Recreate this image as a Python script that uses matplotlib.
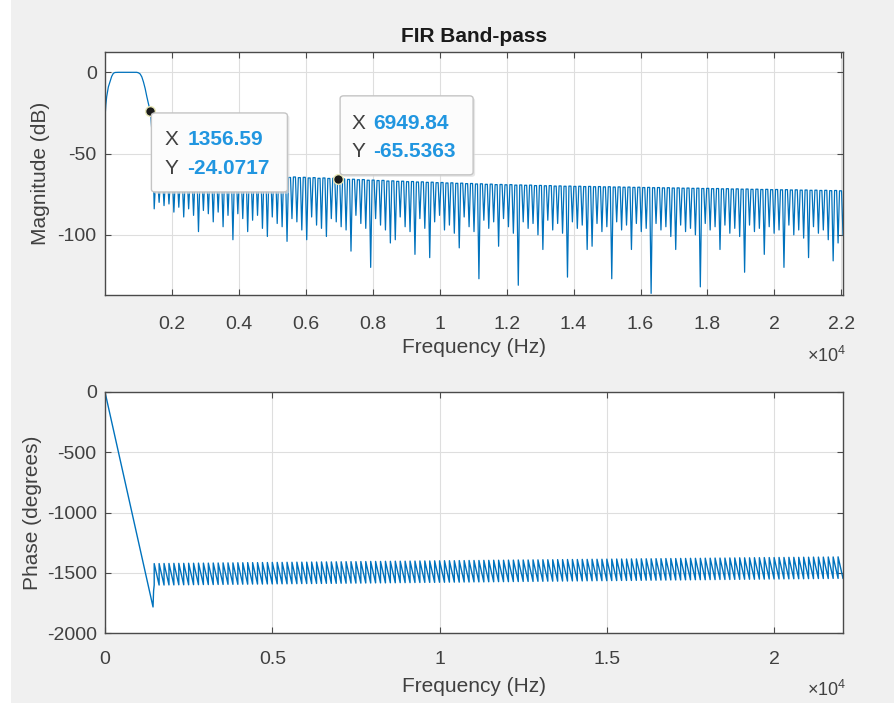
import matplotlib
matplotlib.use("Agg")
import matplotlib.pyplot as plt
from matplotlib.patches import Rectangle, FancyBboxPatch

plt.rcParams['font.family'] = ['Liberation Sans', 'DejaVu Sans']
plt.rcParams['mathtext.fontset'] = 'custom'
plt.rcParams['mathtext.rm'] = 'Liberation Sans'
plt.rcParams['axes.unicode_minus'] = False

# ---------------- data ----------------
title = "FIR Band-pass"
fs_half_hz = 22050

# pass-band / transition of the magnitude response
pass_hz = [0, 25, 50, 100, 150, 200, 250, 300, 400, 600, 800, 950,
           1000, 1050, 1100, 1150, 1200, 1250, 1300, 1356.59, 1400, 1440]
pass_db = [-28, -20, -15, -9, -5.8, -2.5, -0.6, -0.1, 0, 0, 0, 0,
           -0.3, -1, -2.8, -6, -10, -15, -19.5, -24.0717, -36, -55]

# stop-band lobes: null frequencies / depths and lobe peak frequencies / levels
null_hz = [1470, 1617, 1764, 1911, 2058, 2205, 2352, 2499, 2646, 2793,
           2940, 3087, 3234, 3381, 3528, 3675, 3822, 3969, 4116, 4263,
           4410, 4557, 4704, 4851, 4998, 5145, 5292, 5439, 5586, 5733,
           5880, 6027, 6174, 6321, 6468, 6615, 6762, 6909, 7056, 7203,
           7350, 7497, 7644, 7791, 7938, 8085, 8232, 8379, 8526, 8673,
           8820, 8967, 9114, 9261, 9408, 9555, 9702, 9849, 9996, 10143,
           10290, 10437, 10584, 10731, 10878, 11025, 11172, 11319, 11466, 11613,
           11760, 11907, 12054, 12201, 12348, 12495, 12642, 12789, 12936, 13083,
           13230, 13377, 13524, 13671, 13818, 13965, 14112, 14259, 14406, 14553,
           14700, 14847, 14994, 15141, 15288, 15435, 15582, 15729, 15876, 16023,
           16170, 16317, 16464, 16611, 16758, 16905, 17052, 17199, 17346, 17493,
           17640, 17787, 17934, 18081, 18228, 18375, 18522, 18669, 18816, 18963,
           19110, 19257, 19404, 19551, 19698, 19845, 19992, 20139, 20286, 20433,
           20580, 20727, 20874, 21021, 21168, 21315, 21462, 21609, 21756, 21903,
           22050]
null_db = [-84, -80, -82, -81, -86, -83, -89, -84, -88, -98,
           -85, -87, -92, -86, -95, -88, -103, -87, -90, -98,
           -91, -88, -96, -101, -89, -93, -95, -104, -90, -92,
           -97, -103, -89, -94, -96, -101, -90, -92, -95, -97,
           -110, -88, -93, -96, -120, -90, -94, -97, -105, -103,
           -89, -95, -98, -112, -90, -96, -114, -92, -88, -97,
           -94, -99, -108, -89, -95, -98, -127, -91, -96, -92,
           -107, -90, -95, -99, -131, -92, -96, -93, -100, -109,
           -91, -97, -93, -99, -126, -92, -96, -94, -109, -107,
           -93, -98, -95, -127, -92, -97, -94, -109, -93, -98,
           -96, -136, -93, -97, -95, -101, -109, -94, -98, -96,
           -100, -132, -93, -97, -95, -109, -94, -99, -96, -101,
           -123, -94, -98, -96, -112, -95, -99, -97, -120, -94,
           -100, -97, -102, -114, -95, -99, -97, -103, -116, -105,
           -100]
peak_hz = [1543, 1690, 1837, 1984, 2131, 2278, 2425, 2572, 2719, 2866,
           3013, 3160, 3307, 3454, 3601, 3748, 3895, 4042, 4189, 4336,
           4483, 4630, 4777, 4924, 5071, 5218, 5365, 5512, 5659, 5806,
           5953, 6100, 6247, 6394, 6541, 6688, 6835, 6982, 7129, 7276,
           7423, 7570, 7717, 7864, 8011, 8158, 8305, 8452, 8599, 8746,
           8893, 9040, 9187, 9334, 9481, 9628, 9775, 9922, 10069, 10216,
           10363, 10510, 10657, 10804, 10951, 11098, 11245, 11392, 11539, 11686,
           11833, 11980, 12127, 12274, 12421, 12568, 12715, 12862, 13009, 13156,
           13303, 13450, 13597, 13744, 13891, 14038, 14185, 14332, 14479, 14626,
           14773, 14920, 15067, 15214, 15361, 15508, 15655, 15802, 15949, 16096,
           16243, 16390, 16537, 16684, 16831, 16978, 17125, 17272, 17419, 17566,
           17713, 17860, 18007, 18154, 18301, 18448, 18595, 18742, 18889, 19036,
           19183, 19330, 19477, 19624, 19771, 19918, 20065, 20212, 20359, 20506,
           20653, 20800, 20947, 21094, 21241, 21388, 21535, 21682, 21829, 21976]
peak_db = [-66.5, -66, -65.8, -66.2, -65.5, -65.9, -65.3, -65.7, -65.2, -65.6,
           -65.1, -65.4, -65, -65.5, -64.9, -65.3, -64.8, -65.2, -64.7, -65.1,
           -64.6, -65, -64.5, -64.9, -64.4, -64.8, -64.3, -64.7, -64.4, -64.8,
           -64.6, -65, -64.8, -65.2, -65, -65.3, -65.2, -65.5, -65.6, -65.9,
           -65.8, -66.1, -66, -66.4, -66.3, -66.6, -66.5, -66.9, -66.8, -67.1,
           -67, -67.3, -67.2, -67.5, -67.4, -67.7, -67.6, -67.9, -67.8, -68.1,
           -68, -68.3, -68.2, -68.5, -68.4, -68.7, -68.6, -68.9, -68.8, -69.1,
           -69, -69.2, -69.1, -69.4, -69.3, -69.5, -69.4, -69.7, -69.6, -69.8,
           -69.7, -70, -69.9, -70.1, -70, -70.2, -70.1, -70.3, -70.2, -70.4,
           -70.3, -70.5, -70.4, -70.6, -70.5, -70.7, -70.6, -70.8, -70.7, -70.9,
           -70.8, -71, -70.9, -71.1, -71, -71.2, -71.1, -71.3, -71.2, -71.4,
           -71.3, -71.5, -71.4, -71.6, -71.5, -71.7, -71.6, -71.8, -71.7, -71.9,
           -71.8, -72, -71.9, -72.1, -72, -72.2, -72.1, -72.3, -72.2, -72.4,
           -72.3, -72.5, -72.4, -72.6, -72.5, -72.7, -72.6, -72.8, -72.7, -72.9]

# phase: linear pass-band part, then per-lobe sawtooth (start / end of each lobe)
phase_pass_hz = [0, 1435, 1452, 1470]
phase_pass_deg = [0, -1784, -1650, -1602]
phase_top = [-1424, -1424, -1423, -1423, -1422, -1422, -1422, -1421, -1421, -1420,
             -1420, -1420, -1419, -1419, -1418, -1418, -1418, -1417, -1417, -1416,
             -1416, -1416, -1415, -1415, -1414, -1414, -1414, -1413, -1413, -1412,
             -1412, -1412, -1411, -1411, -1410, -1410, -1410, -1409, -1409, -1408,
             -1408, -1408, -1407, -1407, -1406, -1406, -1406, -1405, -1405, -1404,
             -1404, -1404, -1403, -1403, -1402, -1402, -1402, -1401, -1401, -1400,
             -1400, -1400, -1399, -1399, -1398, -1398, -1398, -1397, -1397, -1396,
             -1396, -1396, -1395, -1395, -1394, -1394, -1394, -1393, -1393, -1392,
             -1392, -1392, -1391, -1391, -1390, -1390, -1390, -1389, -1389, -1388,
             -1388, -1388, -1387, -1387, -1386, -1386, -1386, -1385, -1385, -1384,
             -1384, -1384, -1383, -1383, -1382, -1382, -1382, -1381, -1381, -1380,
             -1380, -1380, -1379, -1379, -1378, -1378, -1378, -1377, -1377, -1376,
             -1376, -1376, -1375, -1375, -1374, -1374, -1374, -1373, -1373, -1372,
             -1372, -1372, -1371, -1371, -1370, -1370, -1370, -1369, -1369, -1368]
phase_bot = [-1602, -1602, -1601, -1601, -1600, -1600, -1600, -1599, -1599, -1598,
             -1598, -1598, -1597, -1597, -1596, -1596, -1596, -1595, -1595, -1594,
             -1594, -1594, -1593, -1593, -1592, -1592, -1592, -1591, -1591, -1590,
             -1590, -1590, -1589, -1589, -1588, -1588, -1588, -1587, -1587, -1586,
             -1586, -1586, -1585, -1585, -1584, -1584, -1584, -1583, -1583, -1582,
             -1582, -1582, -1581, -1581, -1580, -1580, -1580, -1579, -1579, -1578,
             -1578, -1578, -1577, -1577, -1576, -1576, -1576, -1575, -1575, -1574,
             -1574, -1574, -1573, -1573, -1572, -1572, -1572, -1571, -1571, -1570,
             -1570, -1570, -1569, -1569, -1568, -1568, -1568, -1567, -1567, -1566,
             -1566, -1566, -1565, -1565, -1564, -1564, -1564, -1563, -1563, -1562,
             -1562, -1562, -1561, -1561, -1560, -1560, -1560, -1559, -1559, -1558,
             -1558, -1558, -1557, -1557, -1556, -1556, -1556, -1555, -1555, -1554,
             -1554, -1554, -1553, -1553, -1552, -1552, -1552, -1551, -1551, -1550,
             -1550, -1550, -1549, -1549, -1548, -1548, -1548, -1547, -1547, -1546]

# data tips
tip_x = [1356.59, 6949.84]
tip_y = [-24.0717, -65.5363]

# axis ticks
mag_xticks = [2000, 4000, 6000, 8000, 10000, 12000, 14000, 16000, 18000, 20000, 22000]
mag_xticklabels = ["0.2", "0.4", "0.6", "0.8", "1", "1.2", "1.4", "1.6", "1.8", "2", "2.2"]
mag_yticks = [-100, -50, 0]
ph_xticks = [0, 5000, 10000, 15000, 20000]
ph_xticklabels = ["0", "0.5", "1", "1.5", "2"]
ph_yticks = [-2000, -1500, -1000, -500, 0]

# rendering: width of the narrow null dip on each side (one frequency bin)
null_halfwidth_hz = 43

# ---------------- assemble the series ----------------
mag_hz = list(pass_hz)
mag_db = list(pass_db)
for k in range(len(peak_hz)):
    mag_hz += [null_hz[k], null_hz[k] + null_halfwidth_hz, peak_hz[k],
               null_hz[k + 1] - null_halfwidth_hz]
    mag_db += [null_db[k], peak_db[k], peak_db[k], peak_db[k]]
mag_hz.append(null_hz[-1])
mag_db.append(null_db[-1])

ph_hz = list(phase_pass_hz)
ph_deg = list(phase_pass_deg)
for k in range(len(phase_top)):
    ph_hz += [null_hz[k], null_hz[k + 1]]
    ph_deg += [phase_top[k], phase_bot[k]]

# ---------------- figure ----------------
W, H = 895, 707
fig = plt.figure(figsize=(W / 100, H / 100), dpi=100, facecolor='#f0f0f0')
fig.patches.append(Rectangle((0, 0), 11 / W, 1, transform=fig.transFigure,
                             fc='white', ec='none', zorder=-5))
fig.patches.append(Rectangle((0, 0), 1, 4 / H, transform=fig.transFigure,
                             fc='white', ec='none', zorder=-5))

ax1 = fig.add_axes([105 / W, (H - 295) / H, 738 / W, 243 / H])
ax2 = fig.add_axes([105 / W, (H - 633) / H, 738 / W, 241 / H])

line_color = '#0072BD'
txt_color = '#404040'


def style(ax, xpad):
    ax.set_facecolor('white')
    for s in ax.spines.values():
        s.set_color('#4a4a4a')
        s.set_linewidth(1.0)
    ax.tick_params(direction='in', length=4, width=0.8, colors='#4a4a4a',
                   labelcolor=txt_color, labelsize=14, top=True, right=True)
    ax.tick_params(axis='x', pad=xpad)
    ax.tick_params(axis='y', pad=6)
    ax.grid(True, color='#dedede', lw=0.8)
    ax.set_axisbelow(True)


ax1.plot(mag_hz, mag_db, color=line_color, lw=0.9)
ax1.set_xlim(0, fs_half_hz)
ax1.set_ylim(-137, 12.5)
ax1.set_xticks(mag_xticks)
ax1.set_xticklabels(mag_xticklabels)
ax1.set_yticks(mag_yticks)
style(ax1, 15)
ax1.set_xlabel('Frequency (Hz)', fontsize=15, color=txt_color)
ax1.set_ylabel('Magnitude (dB)', fontsize=15, color=txt_color)
ax1.xaxis.set_label_coords(0.5, -0.178)
ax1.yaxis.set_label_coords(-0.075, 0.5)
ax1.set_title(title, fontsize=15, fontweight='bold', color='#1a1a1a', pad=7)

ax2.plot(ph_hz, ph_deg, color=line_color, lw=1.0)
ax2.set_xlim(0, fs_half_hz)
ax2.set_ylim(-2000, 0)
ax2.set_xticks(ph_xticks)
ax2.set_xticklabels(ph_xticklabels)
ax2.set_yticks(ph_yticks)
style(ax2, 13)
ax2.set_xlabel('Frequency (Hz)', fontsize=15, color=txt_color)
ax2.set_ylabel('Phase (degrees)', fontsize=15, color=txt_color)
ax2.xaxis.set_label_coords(0.5, -0.183)
ax2.yaxis.set_label_coords(-0.085, 0.5)

# x10^4 exponent labels
fig.text(846 / W, 1 - 356 / H, r'$\times\mathregular{10^{4}}$', ha='right', va='center',
         fontsize=13, color=txt_color)
fig.text(846 / W, 1 - 690 / H, r'$\times\mathregular{10^{4}}$', ha='right', va='center',
         fontsize=13, color=txt_color)

# ---------------- data tips ----------------
# (box left, box bottom, width, height, row1 dy, row2 dy, label dx, value dx) in pixels
tip_layout = [
    (1, -80.5, 136, 79, -28.5, -57.5, 14.5, 37),
    (2.5, 4, 133, 79, 55, 27.4, 14.2, 35.8),
]
for tx, ty, lay in zip(tip_x, tip_y, tip_layout):
    bx, by, bw, bh, r1, r2, ldx, vdx = lay
    px, py = ax1.transData.transform((tx, ty))
    fig.patches.append(FancyBboxPatch(((px + bx + 2) / W, (py + by - 2) / H), bw / W, bh / H,
                                      boxstyle='round,pad=0,rounding_size=0.004',
                                      transform=fig.transFigure, fc='#d8d8d8', ec='none',
                                      alpha=0.6, zorder=4))
    fig.patches.append(FancyBboxPatch(((px + bx) / W, (py + by) / H), bw / W, bh / H,
                                      boxstyle='round,pad=0,rounding_size=0.004',
                                      transform=fig.transFigure, fc='#fcfcfc', ec='#c4c4c4',
                                      lw=1.0, zorder=5))
    fig.text((px + ldx) / W, (py + r1) / H, 'X', ha='left', va='center', fontsize=15,
             color=txt_color, zorder=6)
    fig.text((px + ldx) / W, (py + r2) / H, 'Y', ha='left', va='center', fontsize=15,
             color=txt_color, zorder=6)
    fig.text((px + vdx) / W, (py + r1) / H, '%g' % tx, ha='left', va='center', fontsize=15,
             fontweight='bold', color='#2196e0', zorder=6)
    fig.text((px + vdx) / W, (py + r2) / H, '%g' % ty, ha='left', va='center', fontsize=15,
             fontweight='bold', color='#2196e0', zorder=6)
    ax1.plot([tx], [ty], 'o', ms=7, mfc='#1a1a1a', mec='#e6e6b8', mew=1.0,
             zorder=10, clip_on=False)

fig.savefig('out.png', dpi=100, facecolor=fig.get_facecolor())
